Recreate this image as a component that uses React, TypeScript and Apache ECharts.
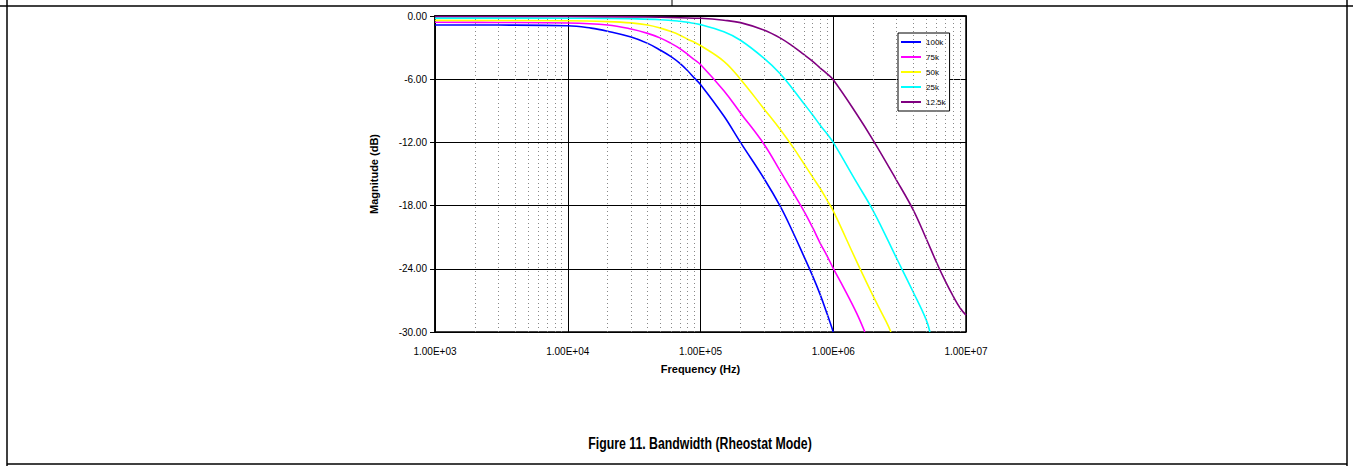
import React, { useEffect, useRef } from "react";
import * as echarts from "echarts";

const seriesNames = ["100k", "75k", "50k", "25k", "12.5k"];
const seriesColors = ["#0000FF", "#FF00FF", "#FFFF00", "#00FFFF", "#800080"];

const freq100k = [1e3, 3e3, 1e4, 1.5e4, 2e4, 3e4, 4e4, 5e4, 6e4, 7e4, 8e4, 9e4, 1e5, 1.5e5, 2e5, 3e5, 4e5, 5e5, 6e5, 7e5, 8e5, 9e5, 1e6];
const mag100k = [-0.85, -0.86, -0.92, -1.15, -1.45, -2.0, -2.6, -3.25, -3.86, -4.5, -5.2, -5.9, -6.5, -9.5, -12.0, -15.4, -18.1, -20.6, -22.8, -24.7, -26.5, -28.3, -30.0];

const freq75k = [1e3, 3e3, 1e4, 2e4, 3e4, 4e4, 5e4, 6e4, 7e4, 8e4, 9e4, 1e5, 1.5e5, 2e5, 3e5, 4e5, 5e5, 6e5, 7e5, 8e5, 9e5, 1e6, 1.2e6, 1.5e6, 1.73e6];
const mag75k = [-0.6, -0.61, -0.66, -0.85, -1.23, -1.65, -2.1, -2.6, -3.1, -3.65, -4.15, -4.6, -7.1, -9.2, -12.15, -14.75, -16.8, -18.5, -20.1, -21.6, -22.8, -23.95, -25.8, -28.2, -30.0];

const freq50k = [1e3, 1e4, 2e4, 3e4, 4e4, 5e4, 6e4, 7e4, 8e4, 9e4, 1e5, 1.5e5, 2e5, 3e5, 4e5, 5e5, 6e5, 7e5, 8e5, 9e5, 1e6, 1.5e6, 2e6, 2.5e6, 2.72e6];
const mag50k = [-0.42, -0.45, -0.53, -0.65, -0.85, -1.15, -1.48, -1.82, -2.2, -2.5, -2.8, -4.3, -6.0, -8.8, -10.8, -12.5, -14.0, -15.3, -16.4, -17.5, -18.5, -23.3, -26.6, -29.0, -30.0];

const freq25k = [1e3, 1e4, 2e4, 3e4, 5e4, 7e4, 8e4, 1e5, 1.5e5, 2e5, 3e5, 4e5, 5e5, 6e5, 7e5, 8e5, 9e5, 1e6, 1.5e6, 2e6, 3e6, 4e6, 5e6, 5.35e6];
const mag25k = [-0.2, -0.21, -0.23, -0.26, -0.35, -0.5, -0.6, -0.82, -1.5, -2.3, -4.0, -5.5, -7.0, -8.3, -9.4, -10.4, -11.2, -12.0, -15.8, -18.5, -23.0, -26.2, -28.8, -30.0];

const freq12k5 = [1e3, 1e4, 3e4, 5e4, 7e4, 1e5, 1.5e5, 2e5, 3e5, 4e5, 5e5, 6e5, 7e5, 8e5, 9e5, 1e6, 1.5e6, 2e6, 3e6, 4e6, 5e6, 6e6, 7e6, 8e6, 9e6, 1e7];
const mag12k5 = [-0.05, -0.05, -0.08, -0.12, -0.17, -0.22, -0.4, -0.63, -1.33, -2.1, -2.9, -3.65, -4.3, -4.95, -5.5, -6.05, -9.3, -11.8, -15.6, -18.4, -21.1, -23.4, -25.2, -26.6, -27.7, -28.4];

const seriesFreqs = [freq100k, freq75k, freq50k, freq25k, freq12k5];
const seriesMags = [mag100k, mag75k, mag50k, mag25k, mag12k5];

const minorFreqs = [
  2e3, 3e3, 4e3, 5e3, 6e3, 7e3, 8e3, 9e3,
  2e4, 3e4, 4e4, 5e4, 6e4, 7e4, 8e4, 9e4,
  2e5, 3e5, 4e5, 5e5, 6e5, 7e5, 8e5, 9e5,
  2e6, 3e6, 4e6, 5e6, 6e6, 7e6, 8e6, 9e6,
];

const xTitle = "Frequency (Hz)";
const yTitle = "Magnitude (dB)";
const figureTitle = "Figure 11. Bandwidth (Rheostat Mode)";

const FONT = 'Arial, "Liberation Sans", Helvetica, sans-serif';

function fmtExp(v: number): string {
  const e = Math.round(Math.log10(v));
  const m = v / Math.pow(10, e);
  const sign = e < 0 ? "-" : "+";
  return m.toFixed(2) + "E" + sign + String(Math.abs(e)).padStart(2, "0");
}

export default function App() {
  const ref = useRef<HTMLDivElement>(null);
  useEffect(() => {
    if (!ref.current) return;
    const chart = echarts.init(ref.current, undefined, { renderer: "svg" });
    const lineSeries = seriesNames.map((name, i) => ({
      name,
      type: "line",
      data: seriesFreqs[i].map((f, j) => [f, seriesMags[i][j]]),
      showSymbol: false,
      symbol: "none",
      smooth: 0.4,
      z: 3,
      lineStyle: { color: seriesColors[i], width: 1.6 },
      itemStyle: { color: seriesColors[i] },
    }));
    const option: any = {
      animation: false,
      grid: {
        left: 435,
        right: 387,
        top: 16,
        bottom: 134,
        show: true,
        borderColor: "#000",
        borderWidth: 1.5,
        backgroundColor: "transparent",
      },
      legend: {
        data: seriesNames,
        orient: "vertical",
        left: 898,
        top: 33,
        icon: "rect",
        itemWidth: 20,
        itemHeight: 2,
        itemGap: 7,
        padding: [5, 4, 5, 3],
        borderColor: "#000",
        borderWidth: 1,
        backgroundColor: "#fff",
        textStyle: { fontSize: 8, fontFamily: FONT, color: "#000" },
        selectedMode: false,
      },
      xAxis: {
        type: "log",
        logBase: 10,
        min: 1e3,
        max: 1e7,
        name: xTitle,
        nameLocation: "middle",
        nameGap: 31,
        nameTextStyle: { fontSize: 11, fontWeight: "bold", fontFamily: FONT, color: "#000" },
        axisLine: { show: true, lineStyle: { color: "#000", width: 1.5 } },
        axisTick: { show: true, inside: false, length: 4, lineStyle: { color: "#000" } },
        axisLabel: {
          fontSize: 10,
          fontFamily: FONT,
          color: "#000",
          margin: 14,
          formatter: (v: number) => fmtExp(v),
        },
        splitLine: { show: true, lineStyle: { color: "#000", width: 1 } },
        minorTick: { show: false },
      },
      yAxis: {
        type: "value",
        min: -30,
        max: 0,
        interval: 6,
        name: yTitle,
        nameLocation: "middle",
        nameGap: 56,
        nameTextStyle: { fontSize: 11, fontWeight: "bold", fontFamily: FONT, color: "#000" },
        axisLine: { show: true, lineStyle: { color: "#000", width: 1.5 } },
        axisTick: { show: true, inside: false, length: 5, lineStyle: { color: "#000" } },
        axisLabel: {
          fontSize: 10,
          fontFamily: FONT,
          color: "#000",
          margin: 8,
          formatter: (v: number) => v.toFixed(2),
        },
        splitLine: { show: true, lineStyle: { color: "#000", width: 1 } },
      },
      series: [
        {
          name: "minorGrid",
          type: "line",
          data: [],
          z: 1,
          silent: true,
          markLine: {
            silent: true,
            symbol: "none",
            animation: false,
            label: { show: false },
            lineStyle: { color: "#888", width: 1, type: [1, 3] },
            data: minorFreqs.map((f) => ({ xAxis: f })),
          },
        },
        ...lineSeries,
      ],
      graphic: [
        { type: "line", shape: { x1: 0, y1: 6, x2: 1353, y2: 6 }, style: { stroke: "#000", lineWidth: 1.5 } },
        { type: "line", shape: { x1: 7, y1: 0, x2: 7, y2: 466 }, style: { stroke: "#000", lineWidth: 1.5 } },
        { type: "line", shape: { x1: 1347, y1: 0, x2: 1347, y2: 466 }, style: { stroke: "#000", lineWidth: 1.5 } },
        { type: "line", shape: { x1: 672, y1: 0, x2: 672, y2: 6 }, style: { stroke: "#000", lineWidth: 1 } },
        { type: "line", shape: { x1: 7, y1: 464, x2: 1347, y2: 464 }, style: { stroke: "#000", lineWidth: 1.5 } },
        {
          type: "text",
          x: 700,
          y: 443,
          scaleX: 0.77,
          style: {
            text: figureTitle,
            font: "bold 16px " + FONT,
            fill: "#000",
            textAlign: "center",
            textVerticalAlign: "middle",
          },
        },
      ],
    };
    chart.setOption(option);
    return () => chart.dispose();
  }, []);
  return (
    <div
      ref={ref}
      style={{ position: "fixed", left: 0, top: 0, width: 1353, height: 466, background: "#fff" }}
    />
  );
}
